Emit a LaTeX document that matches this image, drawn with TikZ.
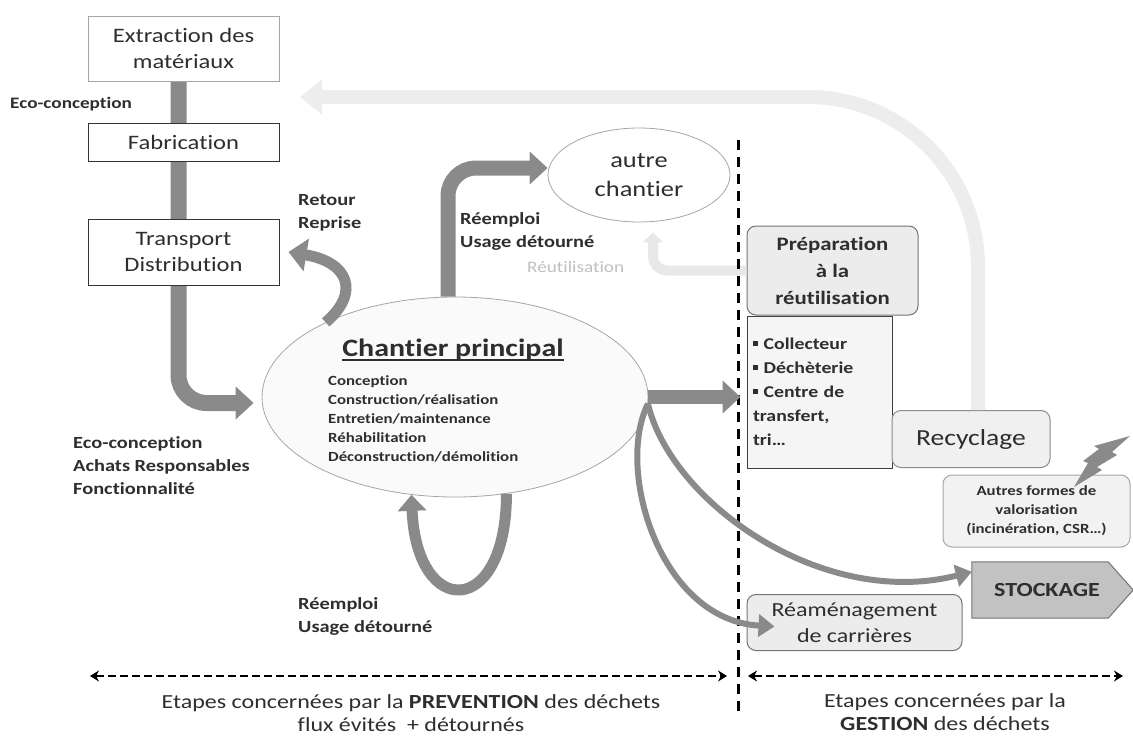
\documentclass[tikz,border=0pt]{standalone}
\usepackage{fontspec}
\setmainfont{Carlito}[FakeStretch=1.2, Ligatures={NoCommon,NoRare}]
\usetikzlibrary{arrows.meta}
\usetikzlibrary{positioning}
\usetikzlibrary{backgrounds}
\usetikzlibrary{shapes.geometric}

\definecolor{txt}{HTML}{2E2E2E}
\definecolor{flowgray}{HTML}{8A8A8A}
\definecolor{backgray}{HTML}{E8E8E8}
\definecolor{boxgray}{HTML}{ECECEC}
\definecolor{stockgray}{HTML}{C2C2C2}
\newcommand{\puce}{\rule[0.2em]{0.3em}{0.3em}\hspace{0.35em}}

\tikzset{
  stage/.style={draw=black!80, fill=white, line width=1pt, minimum width=191pt, align=center, text=txt, inner sep=2pt},
  soft/.style={draw=black!55, fill=boxgray, rounded corners=9pt, line width=1pt, align=center, text=txt, inner sep=2pt},
  lbl/.style={text=txt, align=left, inner sep=0pt, font=\bfseries\fontsize{17}{23}\selectfont},
  flow/.style={draw=flowgray, line width=15pt, rounded corners=28pt, -{Triangle[length=18pt,width=32pt]}},
  thinflow/.style={draw=flowgray, line width=6pt, -{Triangle[length=16pt,width=22pt]}},
  lightflow/.style={draw=backgray, line width=10pt, rounded corners=14pt, -{Triangle[length=10pt,width=20pt]}},
  backflow/.style={draw=backgray!80, line width=14pt, rounded corners=170pt, -{Triangle[length=22pt,width=34pt]}},
  extent/.style={line width=2pt, dash pattern=on 8pt off 4pt, {Stealth[length=9pt,width=11pt]}-{Stealth[length=9pt,width=11pt]}},
  divider/.style={line width=3pt, dash pattern=on 10pt off 7pt}
}

\begin{document}
\begin{tikzpicture}[x=1pt,y=-1pt]
\useasboundingbox (0,0) rectangle (1133,736);

% amont
\node[stage, draw=black!35, minimum height=65pt, font=\fontsize{20.5}{26}\selectfont] (extraction) at (183.5,48.5) {Extraction des\\matériaux};
\node[stage, minimum height=38pt, below=41pt of extraction, font=\fontsize{20.5}{26}\selectfont] (fabrication) {Fabrication};
\node[stage, minimum height=66pt, below=57pt of fabrication, font=\fontsize{20.5}{26}\selectfont] (transport) {Transport\\Distribution};
\node[lbl, anchor=west, font=\bfseries\fontsize{16}{20}\selectfont] (eco1) at (10,104) {Eco-conception};
\node[lbl, anchor=west] (eco2) at (73,466) {Eco-conception\\Achats Responsables\\Fonctionnalité};

% chantiers
\node[ellipse, draw=black!35, fill=black!2, line width=0.8pt, minimum width=386pt, minimum height=200pt, inner sep=0pt] (chantier) at (455,397) {};
\node[text=txt, inner sep=0pt, font=\bfseries\fontsize{25}{30}\selectfont] (chtitle) at (453,350) {Chantier principal};
\draw[txt, line width=1.6pt] ([yshift=-3pt]chtitle.base west) -- ([yshift=-3pt]chtitle.base east);
\node[text=txt, anchor=north west, align=left, inner sep=0pt, font=\bfseries\fontsize{14}{19}\selectfont] (chlist) at (328,375) {Conception\\Construction/réalisation\\Entretien/maintenance\\Réhabilitation\\Déconstruction/démolition};
\node[ellipse, draw=black!35, fill=white, line width=0.8pt, minimum width=182pt, minimum height=94pt, inner sep=0pt, align=center, text=txt, font=\fontsize{22}{29}\selectfont] (autre) at (639,175) {autre\\chantier};

\node[lbl, anchor=west] (retour) at (298,213) {Retour\\Reprise};
\node[lbl, anchor=west] (reemploi1) at (460,231) {Réemploi\\Usage détourné};
\node[lbl, anchor=west] (reemploi2) at (298,616) {Réemploi\\Usage détourné};
\node[lbl, anchor=west, text=black!25, font=\fontsize{16}{20}\selectfont] (reutil) at (527,267) {Réutilisation};

% gestion
\node[soft, minimum width=171pt, minimum height=89pt, font=\bfseries\fontsize{19}{27}\selectfont] (prep) at (832.5,270.5) {Préparation\\à la\\réutilisation};
\node[draw=black!75, fill=black!4, line width=1pt, text=txt, align=left, text width=133pt, inner sep=6pt, minimum height=152pt, below=0pt of prep.south west, anchor=north west, font=\bfseries\fontsize{16.5}{24}\selectfont] (collect) {\puce Collecteur\\\puce Déchèterie\\\puce Centre de\\transfert,\\tri…};
\node[soft, draw=black!45, fill=black!6, minimum width=158pt, minimum height=57pt, font=\fontsize{23}{28}\selectfont] (recyc) at (971,439) {Recyclage};
\node[soft, draw=black!35, fill=black!5, minimum width=187pt, minimum height=72pt, font=\bfseries\fontsize{14}{19}\selectfont] (autres) at (1036.5,511) {Autres formes de\\valorisation\\(incinération, CSR…)};
\node[text=txt, minimum width=150pt, minimum height=56pt, inner sep=0pt, font=\bfseries\fontsize{20}{24}\selectfont] (stock) at (1047,590) {STOCKAGE};
\node[soft, minimum width=215pt, minimum height=56pt, font=\fontsize{20}{26}\selectfont] (ream) at (854.5,622.5) {Réaménagement\\de carrières};
\coordinate (backtip) at (300,97);

\begin{scope}[on background layer]
\draw[flow, line width=16pt] ([xshift=-5pt]extraction.south) |- ([xshift=-8pt,yshift=-6pt]chantier.west);
\fill[stockgray, draw=black!55, line width=1pt] (stock.north west) -- ([xshift=-14pt]stock.north east) -- ([xshift=11pt]stock.east) -- ([xshift=-14pt]stock.south east) -- (stock.south west) -- cycle;
\end{scope}

\draw[backflow] ([xshift=7pt]recyc.north) |- (backtip);
\draw[lightflow] (prep.west) -| ([xshift=14pt,yshift=-10pt]autre.south);
\draw[divider] (738,140) -- (738,712);

\draw[flow, line width=11pt] (chantier.150) .. controls +(35,-30) and +(60,10) .. ([xshift=9pt]transport.east);
\draw[flow] ([xshift=-7pt]chantier.north) |- ([yshift=7pt]autre.west);
\draw[flow, line width=11pt, -{Triangle[length=16pt,width=28pt]}] (chantier.298) .. controls +(0,125) and +(5,125) .. (chantier.246);
\draw[flow, line width=14pt, shorten >=6pt] (chantier.east) -- (chantier.east -| collect.west);
\draw[thinflow] (chantier.358) .. controls (615,470) and (660,620) .. ([xshift=28pt,yshift=-4pt]ream.west);
\draw[thinflow] (chantier.358) .. controls (670,500) and (820,610) .. ([yshift=-10pt]stock.north west);

\fill[flowgray] (1130,436) -- (1112,452) -- (1117,455) -- (1097,467) -- (1102,470) -- (1074,487) -- (1088,463) -- (1083,461) -- (1099,449) -- (1094,446) -- cycle;

% bas
\draw[extent] (90,676) -- (727,676);
\draw[extent] (748,676) -- (1123,676);
\node[text=txt, align=center, inner sep=0pt, font=\fontsize{20}{23}\selectfont] (prevention) at (411,713) {Etapes concernées par la \textbf{PREVENTION} des déchets\\flux évités~ + détournés};
\node[text=txt, align=center, inner sep=0pt, font=\fontsize{20}{23}\selectfont] (gestion) at (945,712) {Etapes concernées par la\\\textbf{GESTION} des déchets};

\end{tikzpicture}
\end{document}
